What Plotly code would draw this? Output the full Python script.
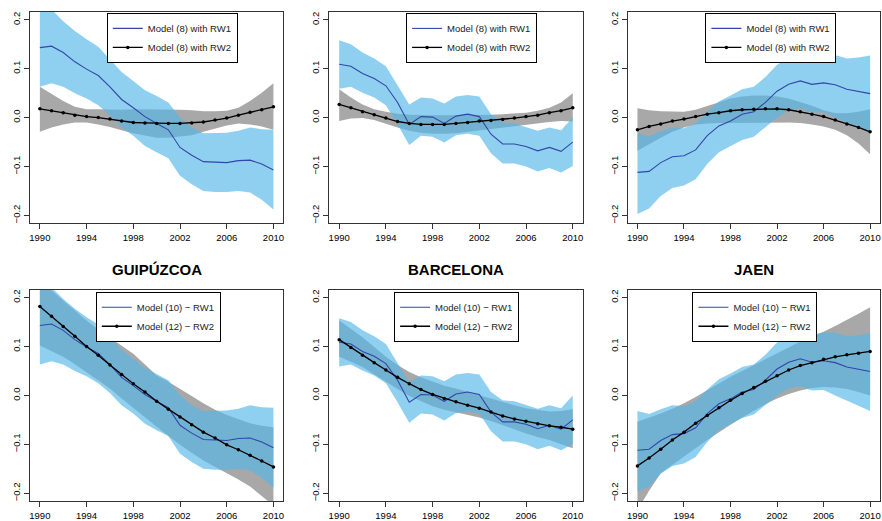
import plotly.graph_objects as go

# ---------------- data ----------------
years = list(range(1990, 2011))
xticks = [1990, 1994, 1998, 2002, 2006, 2010]
yticks = [-0.2, -0.1, 0.0, 0.1, 0.2]
provinces = ["GUIPÚZCOA", "BARCELONA", "JAEN"]

# RW1 (random walk of order 1) effects: mean, lower, upper
guip_rw1 = [0.143, 0.146, 0.133, 0.114, 0.099, 0.086, 0.063, 0.037, 0.020, 0.002, -0.012,
            -0.025, -0.061, -0.077, -0.090, -0.091, -0.092, -0.088, -0.087, -0.095, -0.107]
guip_rw1_lo = [0.063, 0.070, 0.063, 0.050, 0.039, 0.025, 0.005, -0.020, -0.037, -0.058, -0.071,
               -0.083, -0.119, -0.136, -0.150, -0.152, -0.152, -0.150, -0.153, -0.168, -0.188]
guip_rw1_hi = [0.245, 0.222, 0.197, 0.177, 0.160, 0.145, 0.119, 0.093, 0.075, 0.056, 0.044,
               0.031, 0.000, -0.020, -0.032, -0.031, -0.031, -0.027, -0.020, -0.024, -0.025]

barc_rw1 = [0.109, 0.105, 0.090, 0.080, 0.065, 0.031, -0.014, 0.002, 0.001, -0.012, 0.003,
            0.007, 0.002, -0.034, -0.054, -0.054, -0.059, -0.068, -0.061, -0.069, -0.050]
barc_rw1_lo = [0.059, 0.063, 0.051, 0.041, 0.025, -0.014, -0.056, -0.037, -0.039, -0.051, -0.036,
               -0.033, -0.037, -0.073, -0.094, -0.094, -0.100, -0.110, -0.103, -0.112, -0.099]
barc_rw1_hi = [0.158, 0.150, 0.133, 0.121, 0.105, 0.065, 0.027, 0.041, 0.039, 0.029, 0.043,
               0.046, 0.043, 0.007, -0.010, -0.012, -0.020, -0.027, -0.020, -0.026, 0.000]

jaen_rw1 = [-0.112, -0.110, -0.092, -0.080, -0.078, -0.066, -0.037, -0.017, -0.007, 0.007, 0.012,
            0.031, 0.054, 0.068, 0.075, 0.068, 0.071, 0.067, 0.058, 0.054, 0.049]
jaen_rw1_lo = [-0.197, -0.186, -0.160, -0.144, -0.139, -0.126, -0.095, -0.071, -0.058, -0.046, -0.039,
               -0.020, 0.000, 0.014, 0.019, 0.010, 0.011, 0.000, -0.011, -0.021, -0.032]
jaen_rw1_hi = [-0.032, -0.038, -0.028, -0.020, -0.022, -0.012, 0.012, 0.033, 0.045, 0.058, 0.063,
               0.083, 0.108, 0.122, 0.130, 0.124, 0.129, 0.128, 0.121, 0.123, 0.127]

# RW2, Model (8)
guip_m8 = [0.018, 0.014, 0.010, 0.005, 0.002, 0.000, -0.003, -0.007, -0.010, -0.011, -0.012,
           -0.012, -0.012, -0.011, -0.009, -0.005, -0.001, 0.005, 0.011, 0.016, 0.022]
guip_m8_lo = [-0.029, -0.020, -0.014, -0.010, -0.010, -0.014, -0.019, -0.026, -0.032, -0.037, -0.041,
              -0.041, -0.039, -0.036, -0.029, -0.022, -0.016, -0.012, -0.014, -0.018, -0.025]
guip_m8_hi = [0.063, 0.048, 0.034, 0.022, 0.017, 0.017, 0.016, 0.016, 0.017, 0.017, 0.017,
              0.017, 0.016, 0.015, 0.013, 0.013, 0.014, 0.020, 0.034, 0.051, 0.070]

barc_m8 = [0.027, 0.020, 0.012, 0.006, -0.001, -0.008, -0.012, -0.014, -0.014, -0.014, -0.012,
           -0.010, -0.007, -0.006, -0.004, -0.001, 0.002, 0.005, 0.010, 0.014, 0.020]
barc_m8_lo = [-0.007, -0.002, -0.001, -0.005, -0.012, -0.020, -0.027, -0.031, -0.033, -0.033, -0.032,
              -0.029, -0.027, -0.024, -0.021, -0.018, -0.014, -0.012, -0.009, -0.007, -0.008]
barc_m8_hi = [0.058, 0.041, 0.027, 0.017, 0.012, 0.008, 0.006, 0.005, 0.005, 0.005, 0.005,
              0.005, 0.006, 0.006, 0.007, 0.008, 0.010, 0.014, 0.020, 0.031, 0.050]

jaen_m8 = [-0.025, -0.018, -0.013, -0.007, -0.003, 0.002, 0.007, 0.010, 0.014, 0.016, 0.017,
           0.018, 0.018, 0.016, 0.012, 0.007, 0.002, -0.005, -0.013, -0.020, -0.029]
jaen_m8_lo = [-0.068, -0.054, -0.041, -0.029, -0.020, -0.014, -0.012, -0.011, -0.011, -0.010, -0.010,
              -0.010, -0.010, -0.010, -0.011, -0.014, -0.018, -0.025, -0.036, -0.053, -0.075]
jaen_m8_hi = [0.019, 0.015, 0.013, 0.012, 0.012, 0.016, 0.024, 0.032, 0.039, 0.043, 0.045,
              0.045, 0.043, 0.039, 0.032, 0.024, 0.015, 0.009, 0.009, 0.012, 0.017]

# RW2, Model (12)
guip_m12 = [0.182, 0.162, 0.141, 0.121, 0.100, 0.082, 0.062, 0.043, 0.024, 0.007, -0.012,
            -0.028, -0.044, -0.060, -0.075, -0.087, -0.101, -0.111, -0.122, -0.134, -0.146]
guip_m12_lo = [0.102, 0.091, 0.079, 0.064, 0.048, 0.031, 0.014, -0.006, -0.026, -0.045, -0.064,
               -0.083, -0.101, -0.117, -0.133, -0.146, -0.159, -0.172, -0.186, -0.205, -0.225]
guip_m12_hi = [0.240, 0.215, 0.194, 0.173, 0.153, 0.135, 0.118, 0.101, 0.085, 0.063, 0.041,
               0.028, 0.014, -0.001, -0.016, -0.029, -0.040, -0.049, -0.057, -0.062, -0.065]

barc_m12 = [0.114, 0.098, 0.082, 0.067, 0.052, 0.037, 0.024, 0.012, 0.002, -0.006, -0.013,
            -0.020, -0.026, -0.034, -0.042, -0.048, -0.053, -0.058, -0.062, -0.065, -0.069]
barc_m12_lo = [0.079, 0.069, 0.058, 0.043, 0.028, 0.013, -0.001, -0.012, -0.022, -0.029, -0.035,
               -0.040, -0.045, -0.052, -0.060, -0.069, -0.078, -0.085, -0.091, -0.099, -0.108]
barc_m12_hi = [0.153, 0.136, 0.119, 0.099, 0.079, 0.062, 0.048, 0.037, 0.028, 0.020, 0.014,
               0.007, 0.001, -0.007, -0.014, -0.020, -0.026, -0.030, -0.033, -0.032, -0.028]

jaen_m12 = [-0.144, -0.128, -0.110, -0.091, -0.075, -0.057, -0.041, -0.025, -0.010, 0.004, 0.016,
            0.029, 0.040, 0.052, 0.061, 0.067, 0.074, 0.079, 0.083, 0.086, 0.090]
jaen_m12_lo = [-0.234, -0.195, -0.159, -0.142, -0.125, -0.108, -0.091, -0.075, -0.060, -0.045, -0.031,
               -0.018, -0.006, 0.003, 0.010, 0.015, 0.017, 0.016, 0.013, 0.007, 0.000]
jaen_m12_hi = [-0.054, -0.046, -0.037, -0.027, -0.016, -0.003, 0.011, 0.025, 0.038, 0.050, 0.062,
               0.074, 0.086, 0.098, 0.110, 0.120, 0.130, 0.142, 0.154, 0.167, 0.180]

# ---------------- styling ----------------
FONT = "Liberation Sans, Arial, Helvetica, sans-serif"
BLUE_BAND = "rgba(83,183,232,0.65)"
GRAY_BAND = "rgb(168,168,168)"
BLUE_LINE = "#3345a8"

W, H = 882, 521


def px(p):
    return p / W


def py(p):
    return 1 - p / H


# panel boxes in window pixels: (left, right), (top, bottom)
xcols = [(29, 283), (329, 583), (628, 881)]
yrows = [(12, 225), (292, 505)]
# legend top-left positions in window pixels
legpos = [(106, 13), (406, 13), (706, 13), (95, 294), (394, 294), (693, 294)]

panels = [
    (guip_rw1, guip_rw1_lo, guip_rw1_hi, guip_m8, guip_m8_lo, guip_m8_hi),
    (barc_rw1, barc_rw1_lo, barc_rw1_hi, barc_m8, barc_m8_lo, barc_m8_hi),
    (jaen_rw1, jaen_rw1_lo, jaen_rw1_hi, jaen_m8, jaen_m8_lo, jaen_m8_hi),
    (guip_rw1, guip_rw1_lo, guip_rw1_hi, guip_m12, guip_m12_lo, guip_m12_hi),
    (barc_rw1, barc_rw1_lo, barc_rw1_hi, barc_m12, barc_m12_lo, barc_m12_hi),
    (jaen_rw1, jaen_rw1_lo, jaen_rw1_hi, jaen_m12, jaen_m12_lo, jaen_m12_hi),
]
names_top = ["Model (8) with RW1", "Model (8) with RW2"]
names_bot = ["Model (10) \u2212 RW1", "Model (12) \u2212 RW2"]

fig = go.Figure()
layout = dict(
    width=W, height=H, margin=dict(l=0, r=0, t=0, b=0),
    paper_bgcolor="white", plot_bgcolor="white",
    font=dict(family=FONT, size=9, color="black"),
    annotations=[],
)

for i, (r1, r1lo, r1hi, r2, r2lo, r2hi) in enumerate(panels):
    k = i + 1
    sfx = "" if k == 1 else str(k)
    xa, ya = "x" + sfx, "y" + sfx
    lg = "legend" + sfx
    row, col = divmod(i, 3)
    (xl, xr), (yt, yb) = xcols[col], yrows[row]
    names = names_top if row == 0 else names_bot

    # gray band (RW2)
    fig.add_trace(go.Scatter(x=years + years[::-1], y=r2hi + r2lo[::-1], fill="toself",
                             fillcolor=GRAY_BAND, mode="lines", line=dict(width=0),
                             hoverinfo="skip", showlegend=False, xaxis=xa, yaxis=ya))
    # blue band (RW1) drawn semi-transparent on top
    fig.add_trace(go.Scatter(x=years + years[::-1], y=r1hi + r1lo[::-1], fill="toself",
                             fillcolor=BLUE_BAND, mode="lines", line=dict(width=0),
                             hoverinfo="skip", showlegend=False, xaxis=xa, yaxis=ya))
    # RW1 line
    fig.add_trace(go.Scatter(x=years, y=r1, mode="lines", name=names[0],
                             line=dict(color=BLUE_LINE, width=1.1),
                             xaxis=xa, yaxis=ya, legend=lg, showlegend=True))
    # RW2 line with points
    fig.add_trace(go.Scatter(x=years, y=r2, mode="lines+markers", name=names[1],
                             line=dict(color="black", width=1.3),
                             marker=dict(color="black", size=3.5),
                             xaxis=xa, yaxis=ya, legend=lg, showlegend=True))

    axcommon = dict(showgrid=False, zeroline=False, showline=True, mirror=True,
                    linecolor="#333333", linewidth=1, ticks="outside", ticklen=5,
                    tickcolor="#333333", tickwidth=1,
                    tickfont=dict(family=FONT, size=9.5, color="black"))
    layout["xaxis" + sfx] = dict(
        axcommon, domain=[px(xl), px(xr)], anchor=ya, range=[1989.15, 2010.85],
        tickvals=xticks, ticktext=[str(v) for v in xticks])
    layout["yaxis" + sfx] = dict(
        axcommon, domain=[py(yb), py(yt)], anchor=xa, range=[-0.216, 0.216],
        tickvals=yticks, tickformat=".1f", tickangle=-90)

    lx, ly = legpos[i]
    layout[lg] = dict(x=px(lx), y=py(ly), xanchor="left", yanchor="top",
                      bgcolor="white", bordercolor="black", borderwidth=1,
                      font=dict(family=FONT, size=9.5, color="#222222"),
                      itemwidth=30, tracegroupgap=0)

    if row == 1:
        layout["annotations"].append(dict(
            text="<b>" + provinces[col] + "</b>", x=px((xl + xr) / 2), y=py(272),
            xref="paper", yref="paper", showarrow=False, xanchor="center", yanchor="middle",
            font=dict(family=FONT, size=15, color="black")))

fig.update_layout(**layout)
fig.write_html(
    "out.html",
    config={"displayModeBar": False},
    post_script="document.body.style.margin='0';document.body.style.overflow='hidden';",
)
